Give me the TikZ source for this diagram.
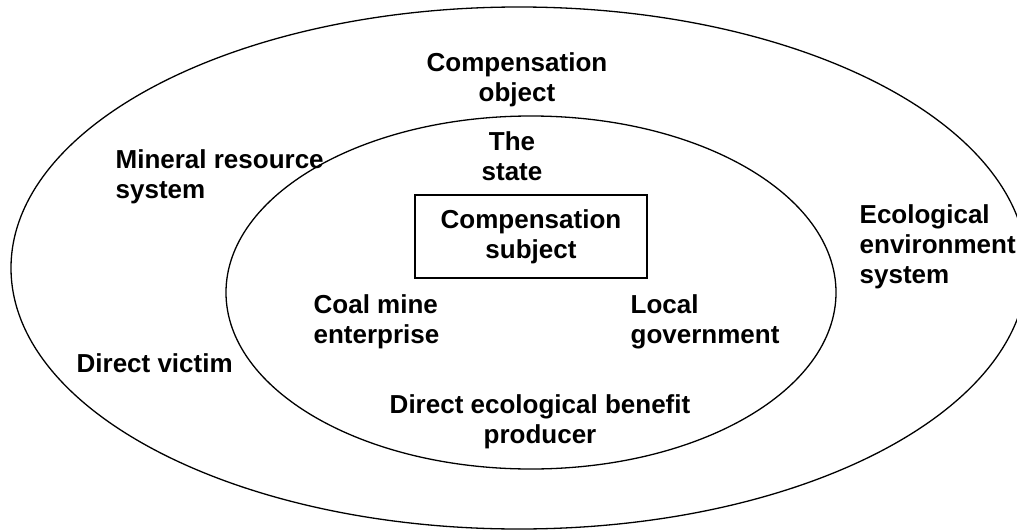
\documentclass[tikz,border=0pt]{standalone}
\usepackage{fontspec}
\setmainfont{Liberation Sans}
\usetikzlibrary{positioning}

\begin{document}
\begin{tikzpicture}[x=1pt,y=-1pt,line width=1.3pt,
  lbl/.style={inner sep=0pt,font=\fontsize{26}{30}\selectfont\bfseries},
  lblL/.style={lbl,align=left,anchor=north west},
  lblC/.style={lbl,align=center,anchor=north}]
  \clip (0,0) rectangle (1017,530);
  \useasboundingbox (0,0) rectangle (1017,530);
  % the two systems
  \draw (519,268) ellipse [x radius=508pt,y radius=261pt];
  \draw (531,292.5) ellipse [x radius=305pt,y radius=176.5pt];
  \node[lbl,draw,minimum width=232pt,minimum height=83pt,align=center]
       (subj) at (531,236.5) {Compensation\\subject};
  \node[lblC] (obj) at (517,52) {Compensation\\object};
  \node[lblC] (state) at (512,131) {The\\state};
  \node[lblL] (mrs) at (115,149) {Mineral resource\\system};
  \node[lblL] (ees) at (859,204) {Ecological\\environment\\system};
  \node[lblL] (coal) at (313,294) {Coal mine\\enterprise};
  \node[lblL] (gov) at (630,294) {Local\\government};
  \node[lblL] (vic) at (76,353) {Direct victim};
  \node[lblC] (prod) at (540,394) {Direct ecological benefit\\producer};
\end{tikzpicture}
\end{document}
